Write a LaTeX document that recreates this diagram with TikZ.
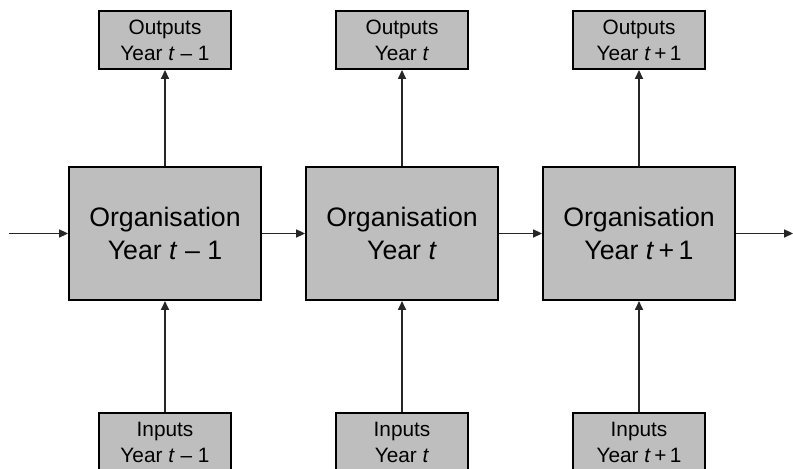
\documentclass[tikz,border=0pt]{standalone}
\usepackage{fontspec}
\setmainfont{Liberation Sans}
\usepackage{tikz}
\usetikzlibrary{arrows.meta, positioning}
\definecolor{boxgray}{RGB}{190,190,190}

\begin{document}
\begin{tikzpicture}[
    org/.style={draw, line width=1.4pt, fill=boxgray, minimum width=4.8cm, minimum height=3.33cm, align=center, font=\fontsize{19}{23}\selectfont},
    small/.style={draw, line width=1.2pt, fill=boxgray, minimum width=3.3cm, minimum height=1.46cm, align=center, font=\fontsize{14.8}{18.5}\selectfont},
    arr/.style={-{Triangle[length=2.2mm, width=2mm]}, line width=1pt, black!85}
]
    \useasboundingbox (0,0) rectangle (19.825,11.725);
    \clip (0,0) rectangle (19.825,11.725);

    % Organisation per year
    \node[org] (org1) at (4.125,5.8875) {Organisation\\Year \textit{t} – 1};
    \node[org] (org2) at (10.05,5.8875) {Organisation\\Year \textit{t}};
    \node[org] (org3) at (15.975,5.8875) {Organisation\\Year \textit{t}\,+\,1};

    % Outputs
    \node[small] (out1) at (4.125,10.725) {Outputs\\Year \textit{t} – 1};
    \node[small] (out2) at (10.05,10.725) {Outputs\\Year \textit{t}};
    \node[small] (out3) at (15.975,10.725) {Outputs\\Year \textit{t}\,+\,1};

    % Inputs
    \node[small] (in1) at (4.125,0.675) {Inputs\\Year \textit{t} – 1};
    \node[small] (in2) at (10.05,0.675) {Inputs\\Year \textit{t}};
    \node[small] (in3) at (15.975,0.675) {Inputs\\Year \textit{t}\,+\,1};

    % Flow between years
    \coordinate (start) at (0.225,5.8875);
    \coordinate (end) at (19.825,5.8875);
    \draw[arr] (start) -- (org1);
    \draw[arr] (org1) -- (org2);
    \draw[arr] (org2) -- (org3);
    \draw[arr] (org3) -- (end);

    \draw[arr] (org1) -- (out1);
    \draw[arr] (org2) -- (out2);
    \draw[arr] (org3) -- (out3);

    \draw[arr] (in1) -- (org1);
    \draw[arr] (in2) -- (org2);
    \draw[arr] (in3) -- (org3);
\end{tikzpicture}
\end{document}
